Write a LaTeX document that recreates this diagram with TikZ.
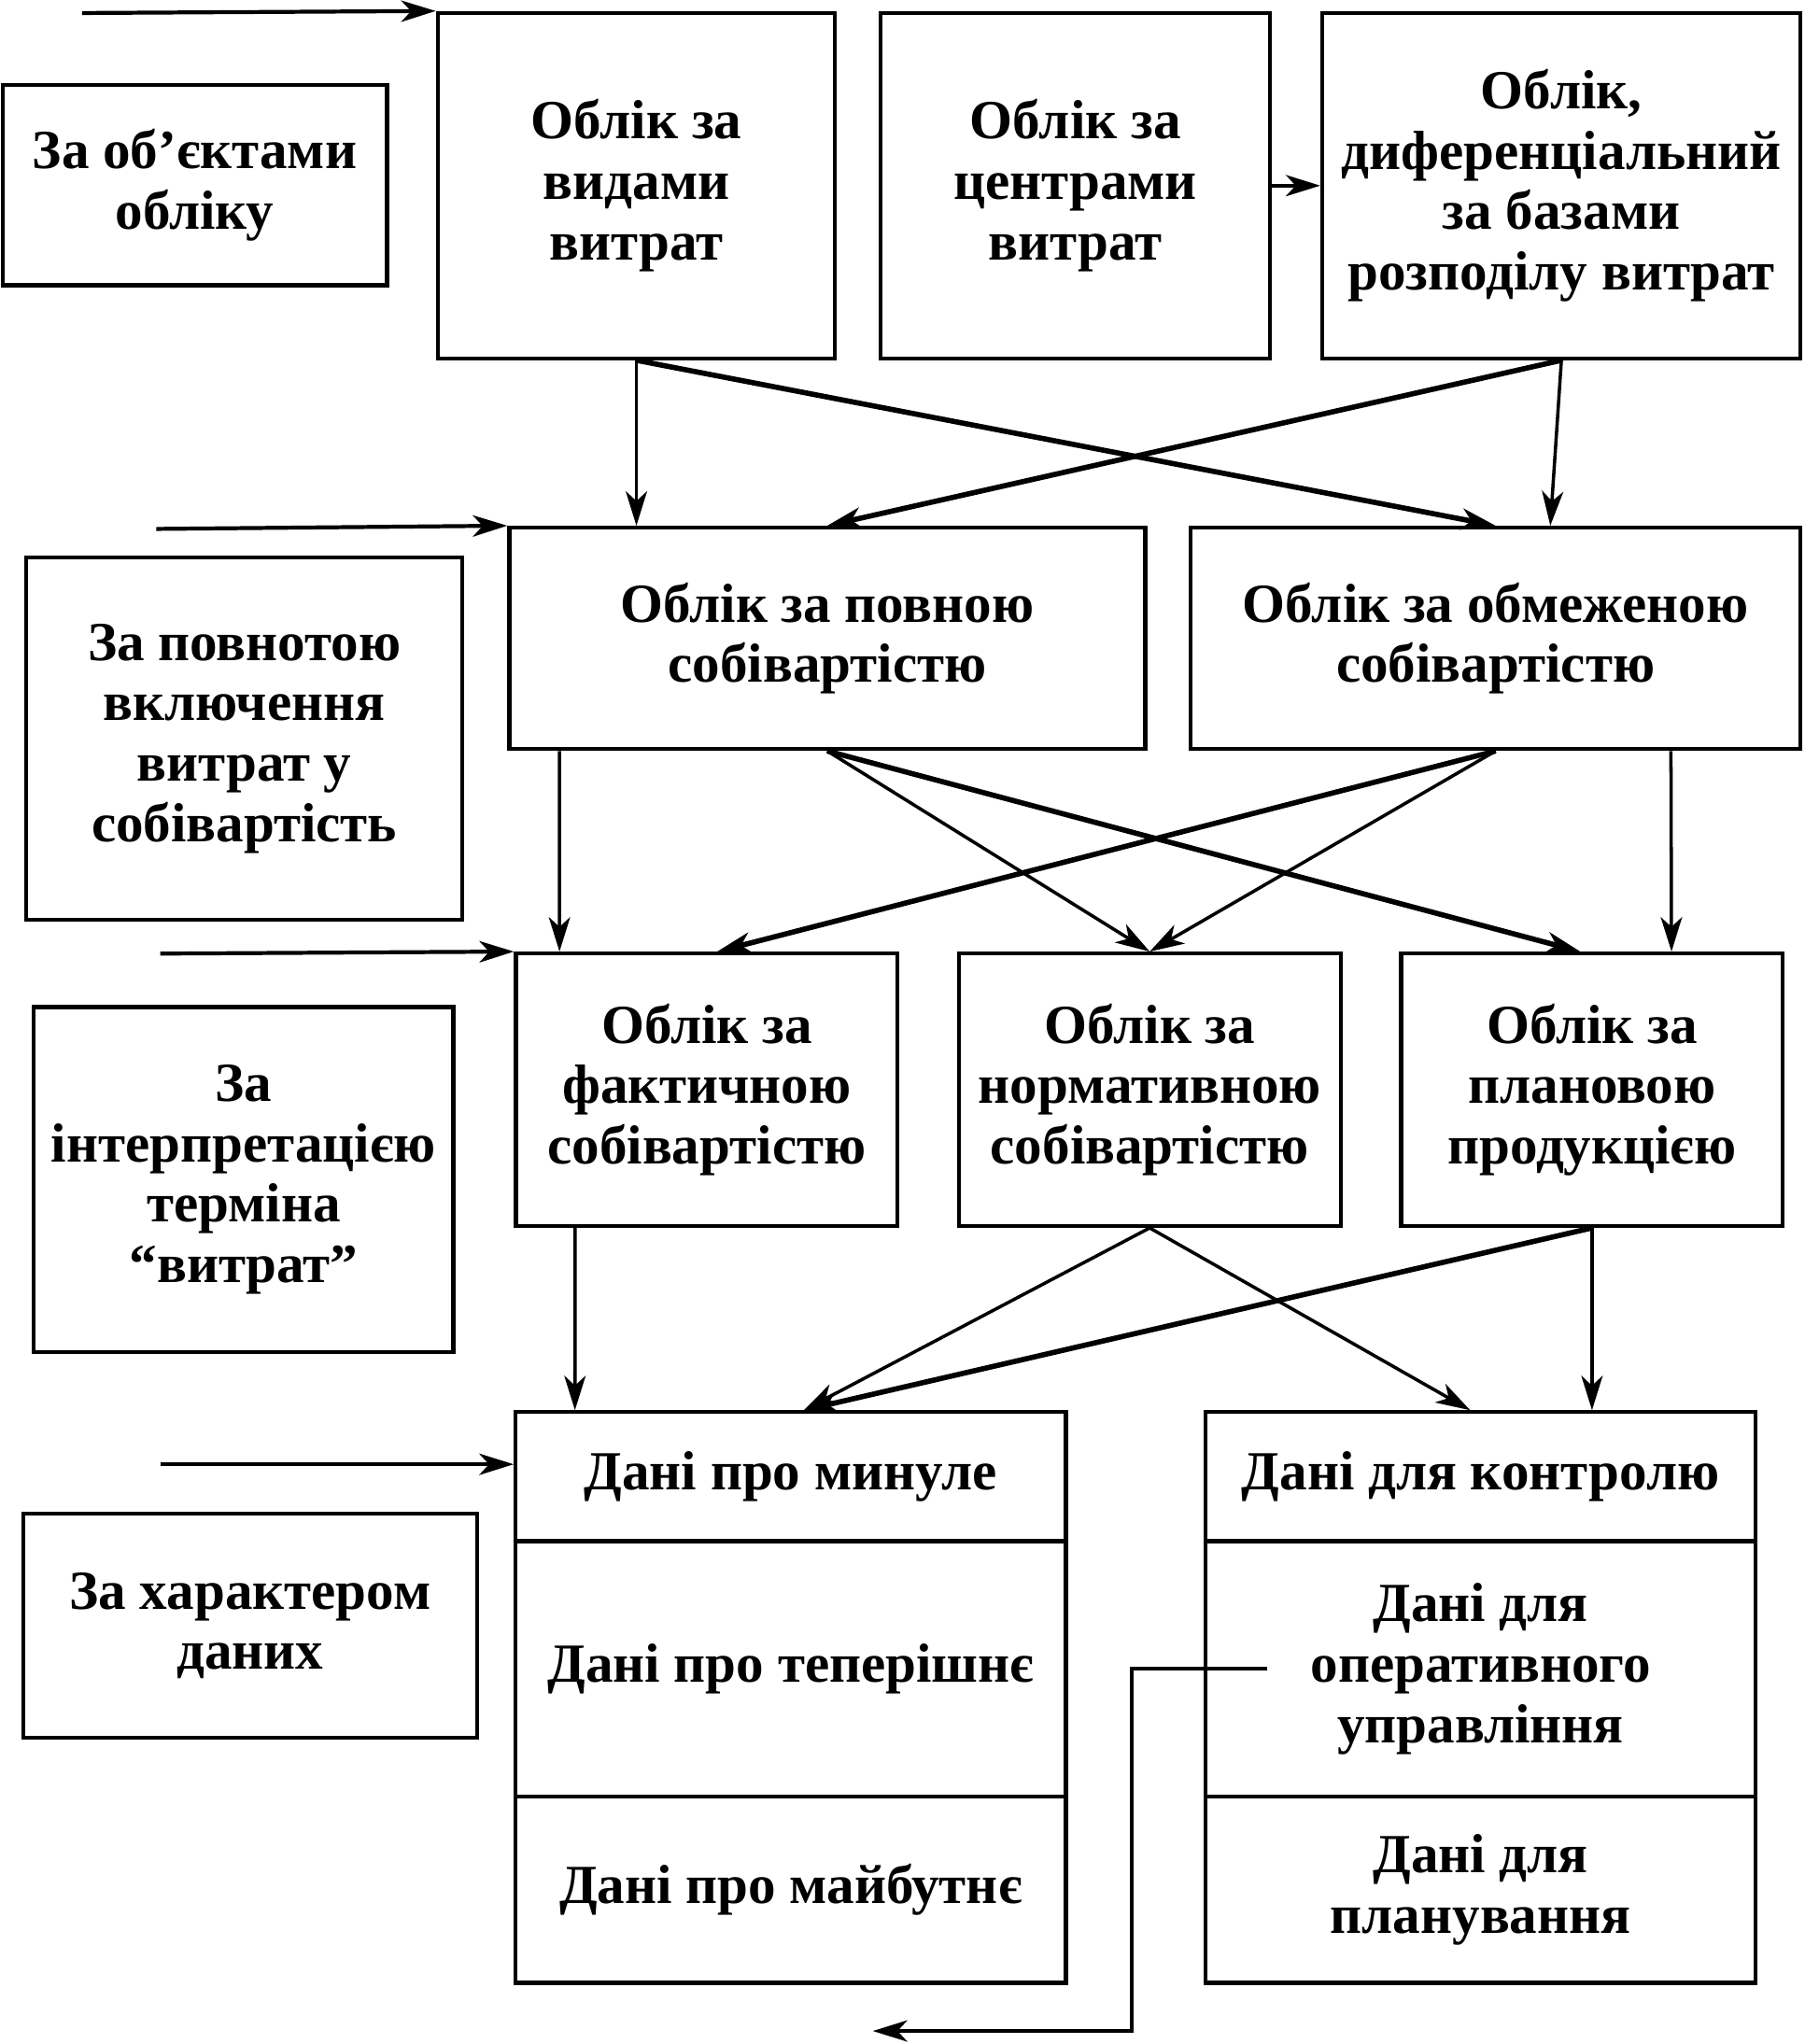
\documentclass[tikz,border=0pt]{standalone}
\usepackage{fontspec}
\setmainfont{Liberation Serif}
\usepackage{tikz}
\usetikzlibrary{arrows.meta}
\usetikzlibrary{calc}
\tikzstyle{BaseNode}=[rectangle, draw=black, line width=1.2pt, inner sep=0pt, align=center, font=\fontsize{16.8pt}{18.4pt}\selectfont\bfseries]
\tikzstyle{CritNode}=[BaseNode]
\tikzstyle{TopNode}=[BaseNode, minimum height=3.697cm]
\tikzstyle{CostNode}=[BaseNode, minimum height=2.37cm]
\tikzstyle{TermNode}=[BaseNode, minimum width=4.087cm, minimum height=2.916cm]
\tikzstyle{DataNode}=[BaseNode, minimum width=5.89cm]
\tikzstyle{ThinEdge}=[->, line width=1pt]
\tikzstyle{ThickEdge}=[ThinEdge, line width=1.6pt]
\tikzstyle{InEdge}=[ThinEdge, line width=1.2pt]
\tikzset{>={Stealth[length=10.5pt,width=6.5pt,inset=3pt]}}
\begin{document}
\begin{tikzpicture}[x=0.01395cm, y=-0.01395cm]
\useasboundingbox (0,0) rectangle (1385,1569);

\node[CritNode, minimum width=4.115cm, minimum height=2.148cm](OBJ) at (149.5,142) {За об’єктами\\обліку};
\node[TopNode, minimum width=4.255cm](VID) at (488.5,142.5) {Облік за\\видами\\витрат};
\node[TopNode, minimum width=4.171cm](CEN) at (825.5,142.5) {Облік за\\центрами\\витрат};
\node[TopNode, minimum width=5.120cm](DIF) at (1198.5,142.5) {Облік,\\диференціальний\\за базами\\розподілу витрат};

\node[CritNode, minimum width=4.673cm, minimum height=3.878cm](POV) at (187.5,567) {За повнотою\\включення\\витрат у\\собівартість};
\node[CostNode, minimum width=6.808cm](FULL) at (635,490) {Облік за повною\\собівартістю};
\node[CostNode, minimum width=6.529cm](LIM) at (1148,490) {Облік за обмеженою\\собівартістю};

\node[CritNode, minimum width=4.492cm, minimum height=3.697cm](INT) at (187,905.5) {За\\інтерпретацією\\терміна\\“витрат”};
\node[TermNode](FACT) at (542.5,836.5) {Облік за\\фактичною\\собівартістю};
\node[TermNode](NORM) at (882.5,836.5) {Облік за\\нормативною\\собівартістю};
\node[TermNode](PLAN) at (1222,836.5) {Облік за\\плановою\\продукцією};

\node[CritNode, minimum width=4.855cm, minimum height=2.399cm](DAT) at (192,1248) {За характером\\даних};
\node[DataNode, minimum height=1.381cm](PAST) at (607,1133.5) {Дані про минуле};
\node[DataNode, minimum height=2.734cm](PRES) at (607,1281) {Дані про теперішнє};
\node[DataNode, minimum height=1.995cm](FUT) at (607,1450.5) {Дані про майбутнє};
\node[DataNode, minimum height=1.381cm](CTRL) at (1136.5,1133.5) {Дані для контролю};
\node[DataNode, minimum height=2.734cm](OPER) at (1136.5,1281) {Дані для\\оперативного\\управління};
\node[DataNode, minimum height=1.995cm](PLNG) at (1136.5,1450.5) {Дані для\\планування};

\coordinate (IN1) at (63,10);
\coordinate (IN2) at (120,406);
\coordinate (IN3) at (123,732);
\coordinate (IN4) at (123,1124);
\coordinate (FBEND) at (670,1559);

\draw[InEdge](IN1) -- (VID.north west);
\draw[InEdge](IN2) -- (FULL.north west);
\draw[InEdge](IN3) -- (FACT.north west);
\draw[InEdge](IN4) -- (IN4 -| PAST.west);
\draw[ThinEdge](CEN.east) -- (DIF.west);

\draw[ThinEdge](VID.south) -- (VID.south |- FULL.north);
\draw[ThickEdge](VID.south) -- (LIM.north);
\draw[ThickEdge](DIF.south) -- (FULL.north);
\draw[ThinEdge](DIF.south) -- ($(LIM.north)+(42,0)$);

\draw[ThinEdge]($(FULL.south west)+(40,0)$) -- ($(FACT.north west)+(35,0)$);
\draw[ThinEdge](FULL.south) -- (NORM.north);
\draw[ThickEdge](FULL.south) -- ($(PLAN.north)+(-9,0)$);
\draw[ThickEdge](LIM.south) -- ($(FACT.north)+(8,0)$);
\draw[ThinEdge](LIM.south) -- (NORM.north);
\draw[ThinEdge]($(LIM.south east)+(-101,0)$) -- ($(PLAN.north east)+(-87,0)$);

\draw[ThinEdge]($(FACT.south west)+(47,0)$) -- ($(PAST.north west)+(47,0)$);
\draw[ThinEdge](NORM.south) -- ($(PAST.north)+(10,0)$);
\draw[ThinEdge](NORM.south) -- ($(CTRL.north)+(-8,0)$);
\draw[ThickEdge](PLAN.south) -- ($(PAST.north)+(10,0)$);
\draw[ThinEdge](PLAN.south) -- (PLAN.south |- CTRL.north);

\draw[ThinEdge]($(OPER.west)+(49,0)$) -- ++(-104,0) |- (FBEND);
\end{tikzpicture}
\end{document}
